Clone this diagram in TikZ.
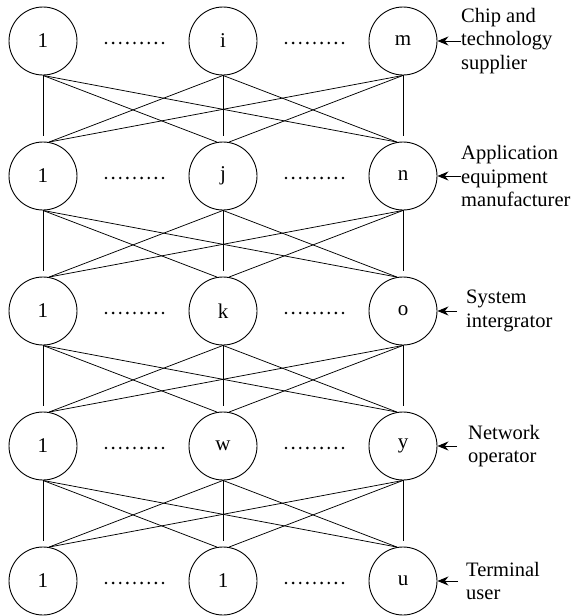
\documentclass[tikz,border=0pt]{standalone}
\usepackage{fontspec}
\setmainfont{Liberation Serif}
\usetikzlibrary{arrows.meta}
\begin{document}
\begin{tikzpicture}[x=1pt,y=-1pt,
  actor/.style={circle,draw,line width=0.9pt,minimum size=68pt,inner sep=0pt,font=\fontsize{21}{24}\selectfont},
  link/.style={line width=0.75pt},
  dotrow/.style={line width=2.9pt,line cap=round,dash pattern=on 0pt off 7.125pt},
  role/.style={anchor=west,align=left,inner sep=0pt,font=\fontsize{20.5}{23.5}\selectfont},
  pointer/.style={-{Stealth[length=11pt,width=9pt]},line width=0.9pt}]
\useasboundingbox (0,0) rectangle (574,616);
% circles
\foreach \r/\la/\lb/\lc in {1/1/i/m,2/1/j/n,3/1/k/o,4/1/w/y,5/1/1/u}{
  \pgfmathsetmacro{\yy}{41+135*(\r-1)}
  \node[actor] (c\r-1) at (43,\yy) {\la};
  \node[actor] (c\r-2) at (223,\yy) {\lb};
  \node[actor] (c\r-3) at (403,\yy) {\lc};
  \draw[dotrow] (106,\yy+2) -- (163.5,\yy+2);
  \draw[dotrow] (286,\yy+2) -- (343.5,\yy+2);
}
% connectors
\foreach \r/\s in {1/2,2/3,3/4,4/5}{
  \foreach \i in {1,2,3}{
    \foreach \j in {1,2,3}{
      \ifnum\i=\j
        \draw[link,shorten >=6pt] (c\r-\i.south) -- (c\s-\j.north);
      \else\ifnum\j<\i
        \draw[link] (c\r-\i.south) -- (c\s-\j.80);
      \else
        \draw[link] (c\r-\i.south) -- (c\s-\j.100);
      \fi\fi
    }
  }
}
% role labels
\node[role] (l1) at (461,41) {Chip and\\technology\\supplier};
\node[role] (l2) at (461,176) {Application\\equipment\\manufacturer};
\node[role] (l3) at (466,311) {System\\intergrator};
\node[role] (l4) at (468,446) {Network\\operator};
\node[role] (l5) at (466,581) {Terminal\\user};
\draw[pointer] (l1.west) -- (c1-3.east);
\draw[pointer] (l2.west) -- (c2-3.east);
\draw[pointer,shorten <=9pt] (l3.west) -- (c3-3.east);
\draw[pointer,shorten <=11pt] (l4.west) -- (c4-3.east);
\draw[pointer,shorten <=8pt] (l5.west) -- (c5-3.east);
\end{tikzpicture}
\end{document}
